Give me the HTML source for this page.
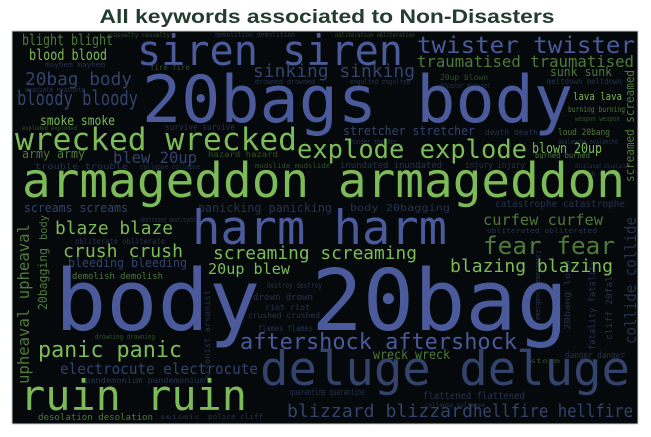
<!DOCTYPE html>
<html><head><meta charset="utf-8"><style>
html,body{margin:0;padding:0;background:#fff;}
svg{display:block}
text{font-family:"DejaVu Sans Mono","Liberation Mono",monospace;}
.b{fill:#4a5a9a}.g{fill:#7dbb58}.db{fill:#34436c}.dg{fill:#4f7a3a}.xb{fill:#27334d}.xg{fill:#34502a}
</style></head><body>
<svg width="651" height="437" viewBox="0 0 651 437">
<text x="327" y="23" text-anchor="middle" textLength="455" lengthAdjust="spacingAndGlyphs" style="font-family:'Liberation Sans',sans-serif;font-weight:bold;font-size:19px;fill:#253c30">All keywords associated to Non-Disasters</text>
<rect x="12" y="31" width="626" height="393" fill="#05090b" stroke="#c8ccd0" stroke-width="1"/>
<g lengthAdjust="spacingAndGlyphs">
<!-- small filler -->
<text class="xb" x="215" y="37" font-size="7" textLength="80" lengthAdjust="spacingAndGlyphs">demolition demolition</text>
<text class="xg" x="110" y="37" font-size="6" textLength="60" lengthAdjust="spacingAndGlyphs">casualty casualty</text>
<text class="xg" x="335" y="37" font-size="6" textLength="80" lengthAdjust="spacingAndGlyphs">obliteration obliteration</text>
<text class="xg" x="150" y="70" font-size="8" textLength="40" lengthAdjust="spacingAndGlyphs">fire fire</text>
<text class="xb" x="45" y="67" font-size="7" textLength="60" lengthAdjust="spacingAndGlyphs">mayhem mayhem</text>
<text class="xg" x="440" y="80" font-size="8" textLength="48" lengthAdjust="spacingAndGlyphs">20up blown</text>
<text class="xb" x="440" y="88" font-size="7" textLength="50" lengthAdjust="spacingAndGlyphs">disaster disaster</text>
<text class="xb" x="547" y="84" font-size="8" textLength="75" lengthAdjust="spacingAndGlyphs">meltdown meltdown</text>
<text class="xb" x="350" y="84" font-size="7" textLength="60" lengthAdjust="spacingAndGlyphs">engulfed engulfed</text>
<text class="xb" x="255" y="84" font-size="7" textLength="60" lengthAdjust="spacingAndGlyphs">drowned drowned</text>
<text class="xb" x="25" y="92" font-size="7" textLength="60" lengthAdjust="spacingAndGlyphs">evacuate evacuate</text>
<text class="g" x="573" y="100" font-size="11" textLength="49" lengthAdjust="spacingAndGlyphs">lava lava</text>
<text class="dg" x="568" y="112" font-size="8" textLength="57" lengthAdjust="spacingAndGlyphs">burning burning</text>
<text class="xg" x="575" y="121" font-size="7" textLength="45" lengthAdjust="spacingAndGlyphs">weapon weapon</text>
<text class="dg" x="558" y="135" font-size="9" textLength="52" lengthAdjust="spacingAndGlyphs">loud 20bang</text>
<text class="xb" x="558" y="144" font-size="7" textLength="60" lengthAdjust="spacingAndGlyphs">avalanche avalanche</text>
<text class="db" x="343" y="135" font-size="12" textLength="132" lengthAdjust="spacingAndGlyphs">stretcher stretcher</text>
<text class="xb" x="485" y="135" font-size="8" textLength="53" lengthAdjust="spacingAndGlyphs">death death</text>
<text class="xb" x="347" y="144" font-size="7" textLength="50" lengthAdjust="spacingAndGlyphs">thunder thunder</text>
<text class="xb" x="165" y="130" font-size="9" textLength="70" lengthAdjust="spacingAndGlyphs">survive survive</text>
<text class="xg" x="22" y="130" font-size="6" textLength="55" lengthAdjust="spacingAndGlyphs">exploded exploded</text>
<text class="xg" x="208" y="157" font-size="8" textLength="70" lengthAdjust="spacingAndGlyphs">hazard hazard</text>
<text class="xg" x="255" y="168" font-size="7" textLength="75" lengthAdjust="spacingAndGlyphs">mudslide mudslide</text>
<text class="xb" x="35" y="169" font-size="8" textLength="93" lengthAdjust="spacingAndGlyphs">trouble trouble</text>
<text class="xb" x="140" y="169" font-size="7" textLength="60" lengthAdjust="spacingAndGlyphs">collapse collapse</text>
<text class="xb" x="340" y="168" font-size="9" textLength="102" lengthAdjust="spacingAndGlyphs">inundated inundated</text>
<text class="xb" x="465" y="168" font-size="9" textLength="60" lengthAdjust="spacingAndGlyphs">injury injury</text>
<text class="dg" x="535" y="158" font-size="8" textLength="55" lengthAdjust="spacingAndGlyphs">burned burned</text>
<text class="xb" x="575" y="168" font-size="6" textLength="55" lengthAdjust="spacingAndGlyphs">displaced displaced</text>
<text class="xb" x="575" y="176" font-size="6" textLength="45" lengthAdjust="spacingAndGlyphs">crash crash</text>
<text class="xb" x="495" y="207" font-size="10" textLength="130" lengthAdjust="spacingAndGlyphs">catastrophe catastrophe</text>
<text class="xb" x="350" y="211" font-size="10" textLength="100" lengthAdjust="spacingAndGlyphs">body 20bagging</text>
<text class="xb" x="140" y="222" font-size="7" textLength="55" lengthAdjust="spacingAndGlyphs">destroyed destroyed</text>
<text class="xb" x="75" y="244" font-size="8" textLength="90" lengthAdjust="spacingAndGlyphs">obliterate obliterate</text>
<text class="xb" x="65" y="243" font-size="6" textLength="0.1"></text>
<text class="db" x="68" y="267" font-size="12" textLength="119" lengthAdjust="spacingAndGlyphs">bleeding bleeding</text>
<text class="dg" x="72" y="279" font-size="9" textLength="91" lengthAdjust="spacingAndGlyphs">demolish demolish</text>
<text class="xb" x="267" y="288" font-size="8" textLength="55" lengthAdjust="spacingAndGlyphs">destroy destroy</text>
<text class="xb" x="253" y="300" font-size="9" textLength="60" lengthAdjust="spacingAndGlyphs">drown drown</text>
<text class="xb" x="265" y="310" font-size="8" textLength="45" lengthAdjust="spacingAndGlyphs">riot riot</text>
<text class="xb" x="248" y="318" font-size="8" textLength="72" lengthAdjust="spacingAndGlyphs">crushed crushed</text>
<text class="xb" x="258" y="331" font-size="8" textLength="55" lengthAdjust="spacingAndGlyphs">flames flames</text>
<text class="xg" x="95" y="339" font-size="7" textLength="60" lengthAdjust="spacingAndGlyphs">drowning drowning</text>
<text class="xb" x="85" y="383" font-size="8" textLength="120" lengthAdjust="spacingAndGlyphs">pandemonium pandemonium</text>
<text class="xb" x="290" y="395" font-size="9" textLength="75" lengthAdjust="spacingAndGlyphs">quarantine quarantine</text>
<text class="xb" x="423" y="399" font-size="10" textLength="102" lengthAdjust="spacingAndGlyphs">flattened flattened</text>
<text class="xb" x="425" y="407" font-size="6" textLength="60" lengthAdjust="spacingAndGlyphs">collapse collapse</text>
<text class="xb" x="565" y="358" font-size="9" textLength="60" lengthAdjust="spacingAndGlyphs">danger danger</text>
<text class="xg" x="530" y="363" font-size="6" textLength="30" lengthAdjust="spacingAndGlyphs">storm</text>
<text class="dg" x="38" y="420" font-size="9" textLength="115" lengthAdjust="spacingAndGlyphs">desolation desolation</text>
<text class="xb" x="208" y="419" font-size="7" textLength="55" lengthAdjust="spacingAndGlyphs">police cliff</text>
<text class="xb" x="160" y="419" font-size="6" textLength="40" lengthAdjust="spacingAndGlyphs">seismic</text>
<!-- vertical -->
<text class="dg" transform="rotate(-90 29 384)" x="29" y="384" font-size="16" textLength="160" lengthAdjust="spacingAndGlyphs">upheaval upheaval</text>
<text class="dg" transform="rotate(-90 47 310)" x="47" y="310" font-size="12" textLength="62" lengthAdjust="spacingAndGlyphs">20bagging</text>
<text class="dg" transform="rotate(-90 47 240)" x="47" y="240" font-size="11" textLength="25" lengthAdjust="spacingAndGlyphs">body</text>
<text class="dg" transform="rotate(-90 634 182)" x="634" y="182" font-size="12" textLength="112" lengthAdjust="spacingAndGlyphs">screamed screamed</text>
<text class="xb" transform="rotate(-90 636 344)" x="636" y="344" font-size="16" textLength="127" lengthAdjust="spacingAndGlyphs">collide collide</text>
<text class="xb" transform="rotate(-90 595 350)" x="595" y="350" font-size="9" textLength="90" lengthAdjust="spacingAndGlyphs">fatality fatality</text>
<text class="xb" transform="rotate(-90 612 340)" x="612" y="340" font-size="9" textLength="70" lengthAdjust="spacingAndGlyphs">cliff 20fall</text>
<text class="xb" transform="rotate(-90 570 330)" x="570" y="330" font-size="8" textLength="70" lengthAdjust="spacingAndGlyphs">20bang loud</text>
<text class="xb" transform="rotate(-90 210 380)" x="210" y="380" font-size="8" textLength="90" lengthAdjust="spacingAndGlyphs">arsonist arsonist</text>
<text class="xb" transform="rotate(-90 540 320)" x="540" y="320" font-size="7" textLength="70" lengthAdjust="spacingAndGlyphs">emergency emergency</text>
<!-- main words -->
<text class="b" x="137" y="65" font-size="42" textLength="266" lengthAdjust="spacingAndGlyphs">siren siren</text>
<text class="b" x="417" y="53" font-size="23" textLength="218" lengthAdjust="spacingAndGlyphs">twister twister</text>
<text class="dg" x="417" y="67" font-size="16" textLength="217" lengthAdjust="spacingAndGlyphs">traumatised traumatised</text>
<text class="dg" x="550" y="76" font-size="12" textLength="62" lengthAdjust="spacingAndGlyphs">sunk sunk</text>
<text class="db" x="253" y="77" font-size="18" textLength="162" lengthAdjust="spacingAndGlyphs">sinking sinking</text>
<text class="dg" x="22" y="45" font-size="15" textLength="91" lengthAdjust="spacingAndGlyphs">blight blight</text>
<text class="g" x="29" y="60" font-size="15" textLength="78" lengthAdjust="spacingAndGlyphs">blood blood</text>
<text class="db" x="25" y="85" font-size="18" textLength="107" lengthAdjust="spacingAndGlyphs">20bag body</text>
<text class="db" x="17" y="105" font-size="20" textLength="121" lengthAdjust="spacingAndGlyphs">bloody bloody</text>
<text class="g" x="40" y="125" font-size="13" textLength="75" lengthAdjust="spacingAndGlyphs">smoke smoke</text>
<text class="b" x="142" y="122" font-size="65" textLength="431" lengthAdjust="spacingAndGlyphs">20bags body</text>
<text class="g" x="15" y="150" font-size="31" textLength="282" lengthAdjust="spacingAndGlyphs">wrecked wrecked</text>
<text class="g" x="297" y="158" font-size="26" textLength="230" lengthAdjust="spacingAndGlyphs">explode explode</text>
<text class="db" x="113" y="163" font-size="16" textLength="84" lengthAdjust="spacingAndGlyphs">blew 20up</text>
<text class="g" x="532" y="153" font-size="14" textLength="70" lengthAdjust="spacingAndGlyphs">blown 20up</text>
<text class="dg" x="22" y="158" font-size="12" textLength="63" lengthAdjust="spacingAndGlyphs">army army</text>
<text class="g" x="22" y="197" font-size="48" textLength="603" lengthAdjust="spacingAndGlyphs">armageddon armageddon</text>
<text class="db" x="24" y="212" font-size="12" textLength="104" lengthAdjust="spacingAndGlyphs">screams screams</text>
<text class="xb" x="198" y="212" font-size="12" textLength="134" lengthAdjust="spacingAndGlyphs">panicking panicking</text>
<text class="b" x="192" y="244" font-size="47" textLength="255" lengthAdjust="spacingAndGlyphs">harm harm</text>
<text class="dg" x="483" y="225" font-size="15" textLength="120" lengthAdjust="spacingAndGlyphs">curfew curfew</text>
<text class="xb" x="487" y="233" font-size="7" textLength="110" lengthAdjust="spacingAndGlyphs">obliterated obliterated</text>
<text class="dg" x="483" y="254" font-size="24" textLength="132" lengthAdjust="spacingAndGlyphs">fear fear</text>
<text class="g" x="450" y="272" font-size="18" textLength="163" lengthAdjust="spacingAndGlyphs">blazing blazing</text>
<text class="g" x="213" y="259" font-size="18" textLength="204" lengthAdjust="spacingAndGlyphs">screaming screaming</text>
<text class="g" x="208" y="274" font-size="15" textLength="82" lengthAdjust="spacingAndGlyphs">20up blew</text>
<text class="g" x="55" y="234" font-size="18" textLength="118" lengthAdjust="spacingAndGlyphs">blaze blaze</text>
<text class="g" x="63" y="257" font-size="18" textLength="120" lengthAdjust="spacingAndGlyphs">crush crush</text>
<text class="b" x="55" y="330" font-size="85" textLength="513" lengthAdjust="spacingAndGlyphs">body 20bag</text>
<text class="b" x="240" y="349" font-size="22" textLength="277" lengthAdjust="spacingAndGlyphs">aftershock aftershock</text>
<text class="g" x="38" y="357" font-size="22" textLength="144" lengthAdjust="spacingAndGlyphs">panic panic</text>
<text class="db" x="60" y="374" font-size="15" textLength="198" lengthAdjust="spacingAndGlyphs">electrocute electrocute</text>
<text class="dg" x="373" y="359" font-size="13" textLength="77" lengthAdjust="spacingAndGlyphs">wreck wreck</text>
<text class="db" x="260" y="385" font-size="47" textLength="370" lengthAdjust="spacingAndGlyphs">deluge deluge</text>
<text class="g" x="20" y="410" font-size="42" textLength="227" lengthAdjust="spacingAndGlyphs">ruin ruin</text>
<text class="db" x="287" y="417" font-size="18" textLength="186" lengthAdjust="spacingAndGlyphs">blizzard blizzard</text>
<text class="db" x="473" y="417" font-size="18" textLength="160" lengthAdjust="spacingAndGlyphs">hellfire hellfire</text>
</g>
</svg>
</body></html>
